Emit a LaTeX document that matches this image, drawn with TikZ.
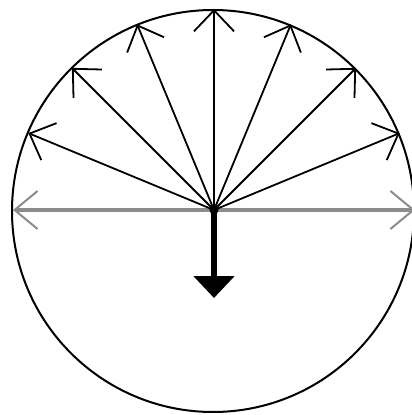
\documentclass[tikz,border=0pt]{standalone}
\usetikzlibrary{arrows.meta}
\begin{document}
\begin{tikzpicture}[x=1pt,y=1pt,
  ray/.style={line width=1.8pt, black, -{Straight Barb[length=21pt,width=40pt,line width=1.8pt]}},
  hray/.style={line width=3.2pt, black!45, -{Straight Barb[length=23pt,width=38pt,line width=2pt]}},
  down/.style={line width=5.5pt, black, -{Triangle[length=22pt,width=40pt]}},
  rim/.style={line width=2pt, black}]
\useasboundingbox (-214,-205) rectangle (198,210);
\coordinate (O) at (0,0);
\draw[rim] (-1,-1) circle (201);
\foreach \a [count=\i] in {0,180}{
  \coordinate (h\i) at (\a:201);
  \draw[hray] (O) -- (h\i);
}
\foreach \a [count=\i] in {22.5,45,67.5,90,112.5,135,157.5}{
  \coordinate (r\i) at (\a:201);
  \draw[ray] (O) -- (r\i);
}
\coordinate (D) at (0,-88);
\draw[down] (O) -- (D);
\fill[black] (O) circle (4.5);
\end{tikzpicture}
\end{document}
